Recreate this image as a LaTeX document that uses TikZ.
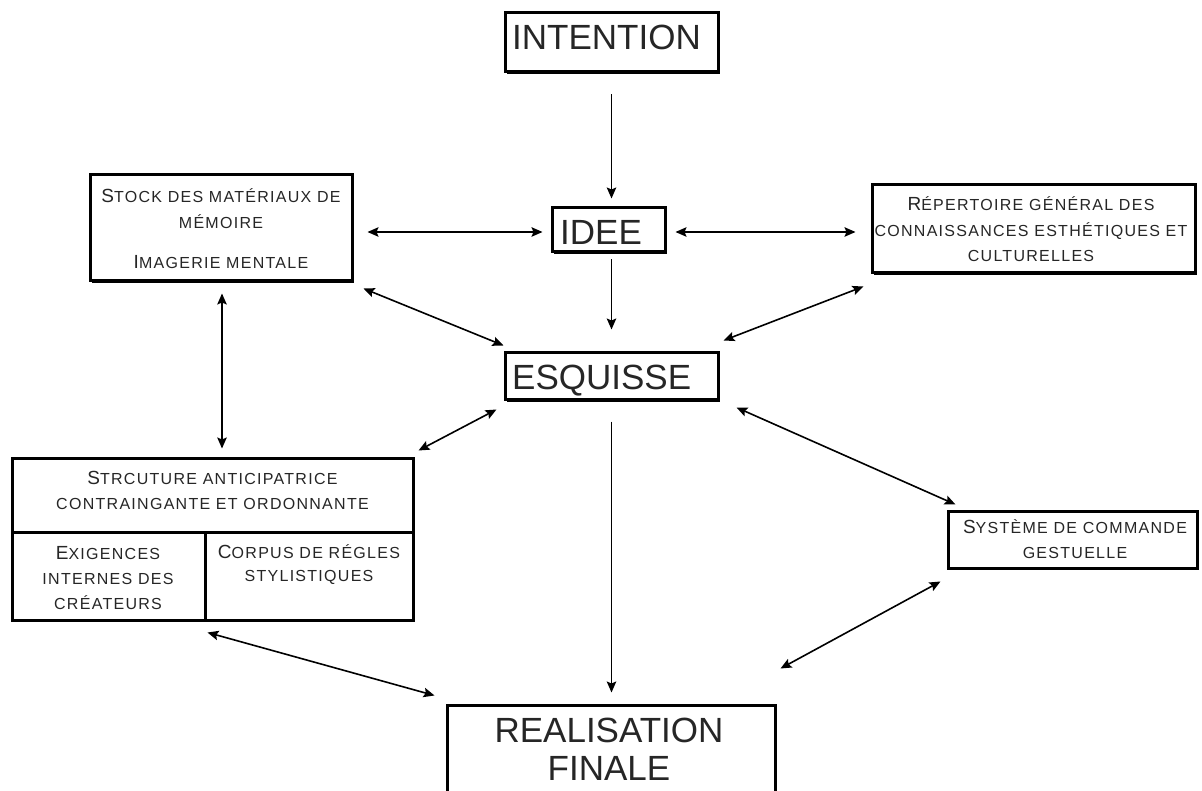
\documentclass[tikz,border=0pt]{standalone}
\usepackage{fontspec}
\setmainfont{Liberation Sans}
\newfontfamily\capsfont[LetterSpace=8]{Liberation Sans}
\usetikzlibrary{calc,shadows,arrows.meta}

% larger first letter of a small-capitals line
\newcommand\initial[1]{{\fontsize{19}{19}\selectfont #1}}

\begin{document}
\begin{tikzpicture}[x=1pt,y=-1pt,
  box/.style={draw,line width=3pt,fill=white,rectangle,inner sep=0pt,
    drop shadow={shadow xshift=2pt,shadow yshift=-2pt,fill=black,opacity=1}},
  big/.style={font=\fontsize{35}{37.5}\selectfont,inner sep=0pt,text=black!85},
  small/.style={font=\capsfont\fontsize{16}{24}\selectfont,inner sep=0pt,anchor=base,text=black!85},
  tip/.tip={Stealth[length=11pt,width=9.5pt,inset=2pt]},
  link/.style={line width=1.6pt,tip-tip},
  feed/.style={line width=1.6pt,-tip}
]
\clip (0,0) rectangle (1202,791);

% boxes
\node[box,minimum width=213pt,minimum height=59pt] (intention) at (611.5,42.5) {};
\node[box,minimum width=113pt,minimum height=44pt] (idee) at (608.5,230) {};
\node[box,minimum width=213pt,minimum height=47pt] (esquisse) at (611.5,376.5) {};
\node[box,minimum width=262pt,minimum height=106pt] (stock) at (221,228) {};
\node[box,minimum width=323pt,minimum height=88pt] (repert) at (1033.5,229) {};
\node[box,minimum width=401pt,minimum height=74pt] (struct) at (212.5,495) {};
\node[box,minimum width=193pt,minimum height=88pt] (exig) at (108.5,576) {};
\node[box,minimum width=208pt,minimum height=88pt] (corpus) at (309,576) {};
\node[box,minimum width=249pt,minimum height=57pt] (systeme) at (1072.5,539.5) {};
\node[box,minimum width=328pt,minimum height=105pt] (real) at (611,757.5) {};

% large labels
\node[big,anchor=base west] (intention-t) at (512,50) {INTENTION};
\node[big,anchor=base west] (idee-t) at (560,245) {IDEE};
\node[big,anchor=base west] (esquisse-t) at (512,390) {ESQUISSE};
\node[big,anchor=base] (real-t1) at (609,742.5) {REALISATION};
\node[big,anchor=base] (real-t2) at (609,780) {FINALE};

% small-capitals labels
\node[small] (stock-t1) at (221,202.5) {\initial{S}TOCK DES MATÉRIAUX DE};
\node[small] (stock-t2) at (221,229) {MÉMOIRE};
\node[small] (stock-t3) at (221,269) {\initial{I}MAGERIE MENTALE};

\node[small] (repert-t1) at (1031,211) {\initial{R}ÉPERTOIRE GÉNÉRAL DES};
\node[small] (repert-t2) at (1031,237) {CONNAISSANCES ESTHÉTIQUES ET};
\node[small] (repert-t3) at (1031,262) {CULTURELLES};

\node[small] (struct-t1) at (212.5,484) {\initial{S}TRCUTURE ANTICIPATRICE};
\node[small] (struct-t2) at (212.5,509) {CONTRAINGANTE ET ORDONNANTE};

\node[small] (exig-t1) at (108,559) {\initial{E}XIGENCES};
\node[small] (exig-t2) at (108,584) {INTERNES DES};
\node[small] (exig-t3) at (108,609) {CRÉATEURS};

\node[small] (corpus-t1) at (309,558) {\initial{C}ORPUS DE RÉGLES};
\node[small] (corpus-t2) at (309,581) {STYLISTIQUES};

\node[small] (systeme-t1) at (1075,533) {\initial{S}YSTÈME DE COMMANDE};
\node[small] (systeme-t2) at (1075,558) {GESTUELLE};

% connectors
\draw[feed] ($(intention.south)+(0,21)$) -- ($(idee.north)+(3,-8)$);
\draw[feed] ($(idee.south)+(3,6)$) -- ($(esquisse.north)+(0,-22)$);
\draw[feed] ($(esquisse.south)+(0,20)$) -- ($(real.north)+(0.5,-11)$);

\draw[link] ($(stock.east)+(14,4)$) -- ($(idee.west)+(-8,2)$);
\draw[link] ($(idee.east)+(9,2)$) -- ($(repert.west)+(-15,3)$);
\draw[link] ($(stock.south east)+(10,6)$) -- ($(esquisse.north west)+(0,-6)$);
\draw[link] ($(repert.south west)+(-7,12)$) -- ($(esquisse.north east)+(4,-11)$);
\draw[link] ($(stock.south)+(1,11)$) -- ($(struct.north)+(9.5,-8)$);
\draw[link] ($(esquisse.south west)+(-7,8)$) -- ($(struct.north east)+(4,-6)$);
\draw[link] ($(esquisse.south east)+(17,6)$) -- ($(systeme.north west)+(9,-5)$);
\draw[link] ($(exig.south east)+(1,11)$) -- ($(real.north west)+(-11,-8)$);
\draw[link] ($(systeme.south west)+(-6,12)$) -- ($(real.north east)+(4,-35)$);
\end{tikzpicture}
\end{document}
